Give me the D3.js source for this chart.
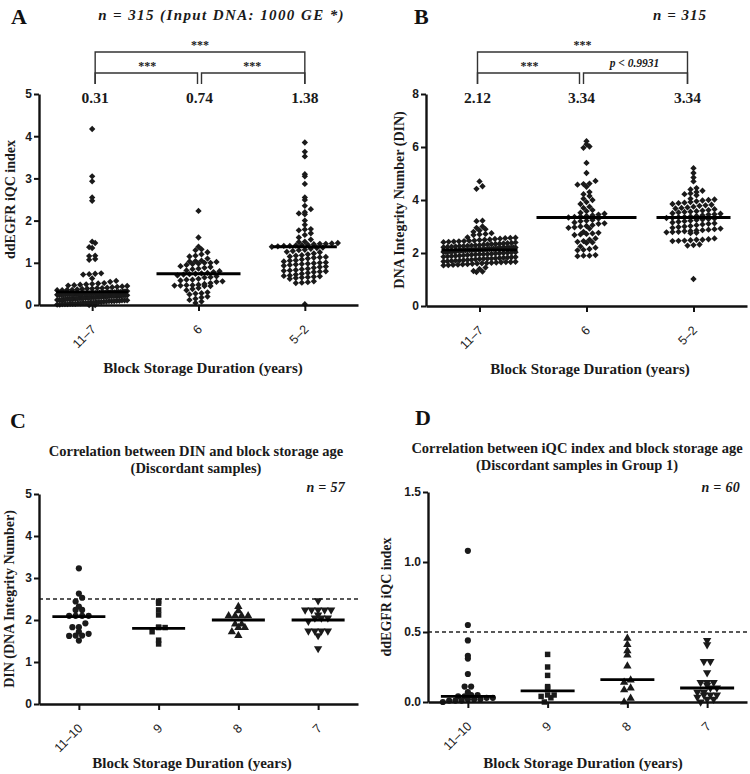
<!DOCTYPE html>
<html><head><meta charset="utf-8">
<script src="https://cdn.jsdelivr.net/npm/d3@7"></script>
<style>body{margin:0;background:#fff}</style>
</head><body>
<svg id="c" width="750" height="774"></svg>
<script>
// ===================== DATA =====================
const catsAB = ["11–7", "6", "5–2"];
const catsCD = ["11–10", "9", "8", "7"];
const ticksA = [0, 1, 2, 3, 4, 5];
const ticksB = [0, 2, 4, 6, 8];
const ticksC = [0, 1, 2, 3, 4, 5];
const ticksD = [0, 0.5, 1.0, 1.5];

// Panel A: ddEGFR iQC index
const iqcA_11_7 = [4.17, 3.05, 2.93, 2.55, 2.47, 1.50, 1.47, 1.37, 1.35, 1.17, 1.16, 1.09, 1.07,
  0.75, 0.74, 0.73, 0.72, 0.63, 0.57, 0.55, 0.52, 0.51, 0.50, 0.49, 0.48, 0.47, 0.46, 0.45, 0.44,
  0.43, 0.42, 0.41, 0.40, 0.40, 0.39, 0.39, 0.38, 0.37, 0.36, 0.36, 0.35, 0.35,
  0.31, 0.29, 0.33, 0.27, 0.30, 0.24, 0.28, 0.32, 0.26, 0.22, 0.30, 0.25, 0.19, 0.28, 0.31, 0.23,
  0.17, 0.29, 0.21, 0.26, 0.14, 0.30, 0.18, 0.24, 0.12, 0.27, 0.20, 0.09, 0.25, 0.15, 0.32, 0.11,
  0.22, 0.07, 0.28, 0.16, 0.05, 0.23, 0.13, 0.29, 0.10, 0.19, 0.04, 0.26, 0.08, 0.21, 0.03, 0.17,
  0.30, 0.06, 0.24, 0.12, 0.02, 0.20, 0.15, 0.27, 0.01, 0.18, 0.09, 0.25, 0.05, 0.14, 0.22, 0.03,
  0.11, 0.28, 0.07, 0.19, 0.00, 0.16, 0.23, 0.04, 0.13, 0.26, 0.08, 0.21, 0.02, 0.10, 0.31, 0.06,
  0.17, 0.24, 0.01, 0.14, 0.20, 0.05, 0.12, 0.27, 0.00, 0.18, 0.09, 0.22, 0.03, 0.15, 0.29, 0.07,
  0.11, 0.25, 0.02, 0.16];
const iqcA_6 = [2.23, 1.60, 1.38, 1.32, 1.30, 1.25, 1.20, 1.17, 1.15, 1.10, 1.05, 1.04, 1.03, 1.02,
  1.00, 1.00, 0.98, 0.97, 0.95, 0.92, 0.90, 0.88, 0.86, 0.85, 0.82, 0.80, 0.78, 0.76, 0.75, 0.74,
  0.73, 0.72, 0.70, 0.68, 0.66, 0.65, 0.62, 0.60, 0.60, 0.58, 0.56, 0.55, 0.52, 0.50, 0.48, 0.47,
  0.47, 0.46, 0.46, 0.45, 0.45, 0.40, 0.38, 0.35, 0.30, 0.28, 0.27, 0.25, 0.20, 0.18, 0.15, 0.12,
  0.08, 0.05];
const iqcA_5_2 = [3.85, 3.63, 3.52, 3.10, 3.05, 2.87, 2.55, 2.49, 2.35, 2.27, 2.20, 2.17, 2.15, 2.00,
  1.90, 1.80, 1.79, 1.77, 1.70, 1.66, 1.60, 1.55, 1.50, 1.49, 1.47, 1.46, 1.45, 1.45, 1.44, 1.43,
  1.42, 1.41, 1.40, 1.40, 1.39, 1.38, 1.36, 1.35, 1.33, 1.31, 1.30, 1.28, 1.26, 1.25, 1.22, 1.20,
  1.18, 1.17, 1.15, 1.14, 1.13, 1.12, 1.10, 1.08, 1.06, 1.05, 1.03, 1.01, 1.00, 0.99, 0.98, 0.97,
  0.96, 0.95, 0.93, 0.91, 0.90, 0.88, 0.86, 0.85, 0.83, 0.82, 0.81, 0.80, 0.79, 0.78, 0.76, 0.74,
  0.72, 0.70, 0.69, 0.68, 0.67, 0.66, 0.65, 0.64, 0.62, 0.56, 0.54, 0.53, 0.52, 0.02];
const medA = [0.31, 0.74, 1.38];

// Panel B: DNA Integrity Number
const dinB_11_7 = [4.70, 4.52, 4.42, 3.22, 3.20, 3.00, 2.95, 2.90, 2.85, 2.80, 2.75, 2.72, 2.70, 2.68,
  2.58, 2.12, 1.84, 2.35, 1.66, 2.21, 1.97, 2.49, 1.73, 2.06, 2.30, 1.58, 2.15, 1.92, 2.44, 1.79,
  2.01, 2.26, 1.62, 2.18, 1.88, 2.53, 1.70, 2.09, 2.38, 1.55, 2.13, 1.95, 2.41, 1.77, 2.04, 2.28,
  1.64, 2.20, 1.86, 2.56, 1.72, 2.10, 2.33, 1.60, 2.16, 1.90, 2.46, 1.81, 2.03, 2.24, 1.68, 2.19,
  1.93, 2.51, 1.75, 2.07, 2.36, 1.57, 2.14, 1.99, 2.43, 1.83, 2.00, 2.27, 1.65, 2.22, 1.89, 2.59,
  1.71, 2.11, 2.31, 1.53, 2.17, 1.96, 2.47, 1.78, 2.05, 2.25, 1.63, 2.23, 1.87, 2.54, 1.74, 2.08,
  2.34, 1.59, 2.12, 1.94, 2.40, 1.80, 2.02, 2.29, 1.67, 2.20, 1.91, 2.50, 1.76, 2.09, 2.37, 1.56,
  2.15, 1.98, 2.45, 1.82, 2.04, 2.26, 1.61, 2.18, 1.85, 2.57, 1.69, 2.13, 2.32, 1.54, 2.16, 1.95,
  2.42, 1.79, 2.06, 2.21, 1.66, 2.19, 2.10, 2.14, 2.11, 2.13, 2.09, 1.45, 1.40, 1.32, 1.30, 1.28];
const dinB_6 = [6.22, 6.10, 6.02, 5.97, 5.40, 5.02, 4.72, 4.62, 4.60, 4.58, 4.50, 4.30, 4.22, 4.15,
  4.05, 4.00, 3.92, 3.85, 3.75, 3.70, 3.62, 3.58, 3.52, 3.48, 3.45, 3.42, 3.40, 3.38, 3.36, 3.34,
  3.30, 3.25, 3.22, 3.20, 3.15, 3.12, 3.10, 3.05, 3.02, 3.00, 2.97, 2.95, 2.92, 2.80, 2.76, 2.74,
  2.72, 2.70, 2.68, 2.55, 2.50, 2.45, 2.42, 2.40, 2.38, 2.25, 2.20, 2.15, 2.12, 2.10, 1.92, 1.90,
  1.90, 1.88];
const dinB_5_2 = [5.20, 5.02, 4.85, 4.70, 4.45, 4.40, 4.35, 4.30, 4.25, 4.22, 4.18, 4.05, 4.02, 4.00,
  3.98, 3.95, 3.92, 3.90, 3.88, 3.85, 3.82, 3.80, 3.78, 3.75, 3.72, 3.70, 3.68, 3.65, 3.62, 3.60,
  3.58, 3.56, 3.55, 3.53, 3.50, 3.48, 3.46, 3.45, 3.42, 3.40, 3.38, 3.36, 3.35, 3.33, 3.32, 3.30,
  3.28, 3.26, 3.25, 3.22, 3.20, 3.18, 3.15, 3.12, 3.10, 3.08, 3.05, 3.02, 3.00, 2.98, 2.95, 2.92,
  2.90, 2.88, 2.86, 2.85, 2.83, 2.82, 2.80, 2.79, 2.78, 2.76, 2.75, 2.55, 2.52, 2.50, 2.50, 2.48,
  2.47, 2.46, 2.45, 2.32, 2.30, 2.28, 1.02];
const medB = [2.12, 3.34, 3.34];

// Panel C: DIN of discordant samples
const dinC_11_10 = [3.23, 2.63, 2.53, 2.44, 2.32, 2.24, 2.24, 2.10, 2.10, 2.10, 2.10, 1.92, 1.83, 1.83,
  1.72, 1.67, 1.62, 1.63, 1.63, 1.51];
const dinC_9 = [2.45, 2.40, 2.24, 2.12, 1.83, 1.82, 1.82, 1.72, 1.52, 1.43];
const dinC_8 = [2.32, 2.22, 2.10, 2.10, 2.10, 2.10, 1.90, 1.90, 1.82, 1.82, 1.72, 1.63];
const dinC_7 = [2.46, 2.24, 2.24, 2.24, 2.24, 2.24, 2.12, 2.05, 2.05, 2.05, 1.97, 1.74, 1.74, 1.74,
  1.74, 1.63, 1.32];
const medC = [2.08, 1.80, 2.00, 2.00];
const cutC = 2.5;

// Panel D: iQC index of discordant samples in group 1
const iqcD_11_10 = [1.08, 0.55, 0.44, 0.33, 0.31, 0.20, 0.11, 0.11, 0.07, 0.05, 0.05, 0.04, 0.04,
  0.03, 0.03, 0.02, 0.02, 0.02, 0.01, 0.01, 0.01, 0.00];
const iqcD_9 = [0.34, 0.25, 0.19, 0.11, 0.10, 0.05, 0.05, 0.04, 0.03, 0.00];
const iqcD_8 = [0.455, 0.41, 0.365, 0.335, 0.257, 0.157, 0.14, 0.10, 0.086, 0.026, 0.00];
const iqcD_7 = [0.44, 0.41, 0.29, 0.29, 0.21, 0.14, 0.14, 0.14, 0.12, 0.10, 0.10, 0.07, 0.07, 0.05,
  0.05, 0.05, 0.035, 0.02, 0.02, 0.00];
const medD = [0.04, 0.08, 0.16, 0.10];
const cutD = 0.5;

const sigA = ["***", "***", "***"];
const sigB = ["***", "***", "p < 0.9931"];

// ===================== RENDER =====================
const svg = d3.select("#c");
const SERIF = "'Liberation Serif','Times New Roman',serif";
const SANS = "'Liberation Sans',Arial,sans-serif";
const INK = "#111";

const symType = {diamond: d3.symbolSquare, circle: d3.symbolCircle, square: d3.symbolSquare,
  triangle: d3.symbolTriangle, triangleDown: d3.symbolTriangle};
const symRot = {diamond: 45, circle: 0, square: 0, triangle: 0, triangleDown: 180};

function panel(o) {
  const g = svg.append("g");
  const x = d3.scalePoint().domain(o.cats).range([o.x0, o.x1]).padding(0.5);
  const y = d3.scaleLinear().domain(o.domain).range([o.y0, o.y1]);

  if (o.cut !== undefined) {
    g.append("line").attr("x1", o.x0).attr("x2", o.x1)
      .attr("y1", y(o.cut)).attr("y2", y(o.cut))
      .attr("stroke", "#222").attr("stroke-width", 1.4).attr("stroke-dasharray", "4,3");
  }

  o.groups.forEach((vals, gi) => {
    const cx = x(o.cats[gi]);
    const pts = vals.map(v => ({v, py: y(v)}));
    const bins = d3.group(pts, d => Math.round(d.py / o.binH));
    bins.forEach(arr => {
      arr.sort((a, b) => a.v - b.v);
      const n = arr.length;
      const sp = n > 1 ? Math.min(o.sp, o.maxW / (n - 1)) : 0;
      arr.forEach((d, i) => { d.px = cx + (i - (n - 1) / 2) * sp; });
    });
    const shape = o.shapes[gi];
    const path = d3.symbol().type(symType[shape]).size(o.size)();
    g.append("g").selectAll("path").data(pts).join("path")
      .attr("d", path)
      .attr("transform", d => `translate(${d.px},${d.py}) rotate(${symRot[shape]})`)
      .attr("fill", "#1a1a1a");
    // median line
    g.append("line")
      .attr("x1", cx - o.medW[gi] / 2).attr("x2", cx + o.medW[gi] / 2)
      .attr("y1", y(o.medians[gi])).attr("y2", y(o.medians[gi]))
      .attr("stroke", "#000").attr("stroke-width", 2.8);
  });

  // y axis
  const ya = g.append("g").attr("transform", `translate(${o.x0},0)`)
    .call(d3.axisLeft(y).tickValues(o.ticks).tickFormat(o.fmt).tickSize(5).tickSizeOuter(0).tickPadding(2));
  ya.select(".domain").attr("stroke", INK).attr("stroke-width", 2.4);
  ya.selectAll(".tick line").attr("stroke", INK).attr("stroke-width", 2);
  ya.selectAll(".tick text").attr("font-family", SANS).attr("font-weight", "bold")
    .attr("font-size", 12).attr("fill", "#1a1a1a");

  // x axis
  const xa = g.append("g").attr("transform", `translate(0,${o.y0})`)
    .call(d3.axisBottom(x).tickSize(6).tickSizeOuter(0));
  xa.select(".domain").attr("stroke", INK).attr("stroke-width", 2.4);
  xa.selectAll(".tick line").attr("stroke", INK).attr("stroke-width", 2);
  xa.selectAll(".tick text").attr("font-family", SANS).attr("font-size", 12.5).attr("fill", "#222")
    .attr("text-anchor", "end").attr("y", null).attr("dy", null)
    .attr("transform", "translate(4,25) rotate(-45)");

  // y label
  g.append("text").attr("transform", `translate(${o.yLabelX},${(o.y0 + o.y1) / 2}) rotate(-90)`)
    .attr("text-anchor", "middle").attr("font-family", SERIF).attr("font-weight", "bold")
    .attr("font-size", 14).attr("fill", "#1a1a1a").text(o.yLabel);
  // x title
  g.append("text").attr("x", o.xTitleX).attr("y", o.xTitleY)
    .attr("text-anchor", "middle").attr("font-family", SERIF).attr("font-weight", "bold")
    .attr("font-size", 15).attr("fill", "#1a1a1a").text("Block Storage Duration (years)");
  return {x, y};
}

function letter(t, lx, ly) {
  svg.append("text").attr("x", lx).attr("y", ly).attr("font-family", SERIF)
    .attr("font-weight", "bold").attr("font-size", 22).attr("fill", "#111").text(t);
}
function note(t, nx, ny, size, ls) {
  svg.append("text").attr("x", nx).attr("y", ny).attr("text-anchor", "end")
    .attr("font-family", SERIF).attr("font-weight", "bold").attr("font-style", "italic")
    .attr("font-size", size).attr("letter-spacing", ls).attr("fill", "#1a1a1a").text(t);
}

function brackets(sc, cats, meds, sig, shift, italicRight) {
  const xs = cats.map((c, i) => sc.x(c) + shift[i]);
  const g = svg.append("g").attr("stroke", "#333").attr("stroke-width", 1.4).attr("fill", "none");
  const yTop = 52, yLow = 73, yEnd = 84;
  g.append("path").attr("d", `M${xs[0]},${yEnd}V${yTop}H${xs[2]}V${yEnd}`);
  g.append("path").attr("d", `M${xs[0]},${yEnd}V${yLow}H${xs[1] - 2}V${yEnd}`);
  g.append("path").attr("d", `M${xs[1] + 2},${yEnd}V${yLow}H${xs[2]}V${yEnd}`);
  const t = svg.append("g").attr("font-family", SERIF).attr("font-weight", "bold").attr("fill", "#1a1a1a")
    .attr("text-anchor", "middle");
  t.append("text").attr("x", (xs[0] + xs[2]) / 2).attr("y", 49).attr("font-size", 12).text(sig[0]);
  t.append("text").attr("x", (xs[0] + xs[1]) / 2).attr("y", 70).attr("font-size", 12).text(sig[1]);
  const r = t.append("text").attr("x", (xs[1] + xs[2]) / 2).attr("y", italicRight ? 67 : 70)
    .attr("font-size", italicRight ? 11.5 : 12).text(sig[2]);
  if (italicRight) r.attr("font-style", "italic");
  meds.forEach((m, i) => {
    t.append("text").attr("x", xs[i]).attr("y", 103).attr("font-size", 15.5).text(m.toFixed(2));
  });
}

// Panel A
const scA = panel({cats: catsAB, groups: [iqcA_11_7, iqcA_6, iqcA_5_2], domain: [0, 5], ticks: ticksA,
  fmt: d3.format("d"), x0: 39, x1: 358, y0: 305, y1: 94, binH: 4.8, sp: 6, maxW: 70,
  shapes: ["diamond", "diamond", "diamond"], size: 20, medians: medA, medW: [72, 84, 64],
  yLabel: "ddEGFR iQC index", yLabelX: 15, xTitleX: 203, xTitleY: 373});
letter("A", 11, 24);
note("n = 315 (Input DNA: 1000 GE *)", 345, 20, 15, 1.4);
brackets(scA, catsAB, medA, sigA, [3, 1, 0], false);

// Panel B
const scB = panel({cats: catsAB, groups: [dinB_11_7, dinB_6, dinB_5_2], domain: [0, 8], ticks: ticksB,
  fmt: d3.format("d"), x0: 426, x1: 747, y0: 306, y1: 94, binH: 4.8, sp: 6, maxW: 72,
  shapes: ["diamond", "diamond", "diamond"], size: 20, medians: medB, medW: [76, 100, 74],
  yLabel: "DNA Integrity Number (DIN)", yLabelX: 404, xTitleX: 590, xTitleY: 374});
letter("B", 414, 24);
note("n = 315", 707, 20, 15, 1);
brackets(scB, catsAB, medB, sigB, [-2, -5, -6], true);

// Panel C
panel({cats: catsCD, groups: [dinC_11_10, dinC_9, dinC_8, dinC_7], domain: [0, 5], ticks: ticksC,
  fmt: d3.format("d"), x0: 39, x1: 358, y0: 704, y1: 494, binH: 5, sp: 6.5, maxW: 50,
  shapes: ["circle", "square", "triangle", "triangleDown"], size: 30, medians: medC,
  medW: [53, 53, 53, 53], cut: cutC,
  yLabel: "DIN (DNA Integrity Number)", yLabelX: 14, xTitleX: 192, xTitleY: 768});
letter("C", 10, 428);
note("n = 57", 345, 492, 14, 0.3);

// Panel D
panel({cats: catsCD, groups: [iqcD_11_10, iqcD_9, iqcD_8, iqcD_7], domain: [0, 1.5], ticks: ticksD,
  fmt: d3.format(".1f"), x0: 428, x1: 747, y0: 702, y1: 492, binH: 5, sp: 6.5, maxW: 50,
  shapes: ["circle", "square", "triangle", "triangleDown"], size: 30, medians: medD,
  medW: [54, 54, 54, 54], cut: cutD,
  yLabel: "ddEGFR iQC index", yLabelX: 391, xTitleX: 583, xTitleY: 768});
letter("D", 415, 425);
note("n = 60", 740, 492, 14, 0.3);

// Titles C/D
function title2(l1, l2, cx, yy) {
  const t = svg.append("g").attr("font-family", SERIF).attr("font-weight", "bold").attr("fill", "#1a1a1a")
    .attr("font-size", 14.5).attr("text-anchor", "middle");
  t.append("text").attr("x", cx).attr("y", yy).text(l1);
  t.append("text").attr("x", cx).attr("y", yy + 17).text(l2);
}
title2("Correlation between DIN and block storage age", "(Discordant samples)", 196, 456);
title2("Correlation between iQC index and block storage age", "(Discordant samples in Group 1)", 577, 453);
</script>
</body></html>
